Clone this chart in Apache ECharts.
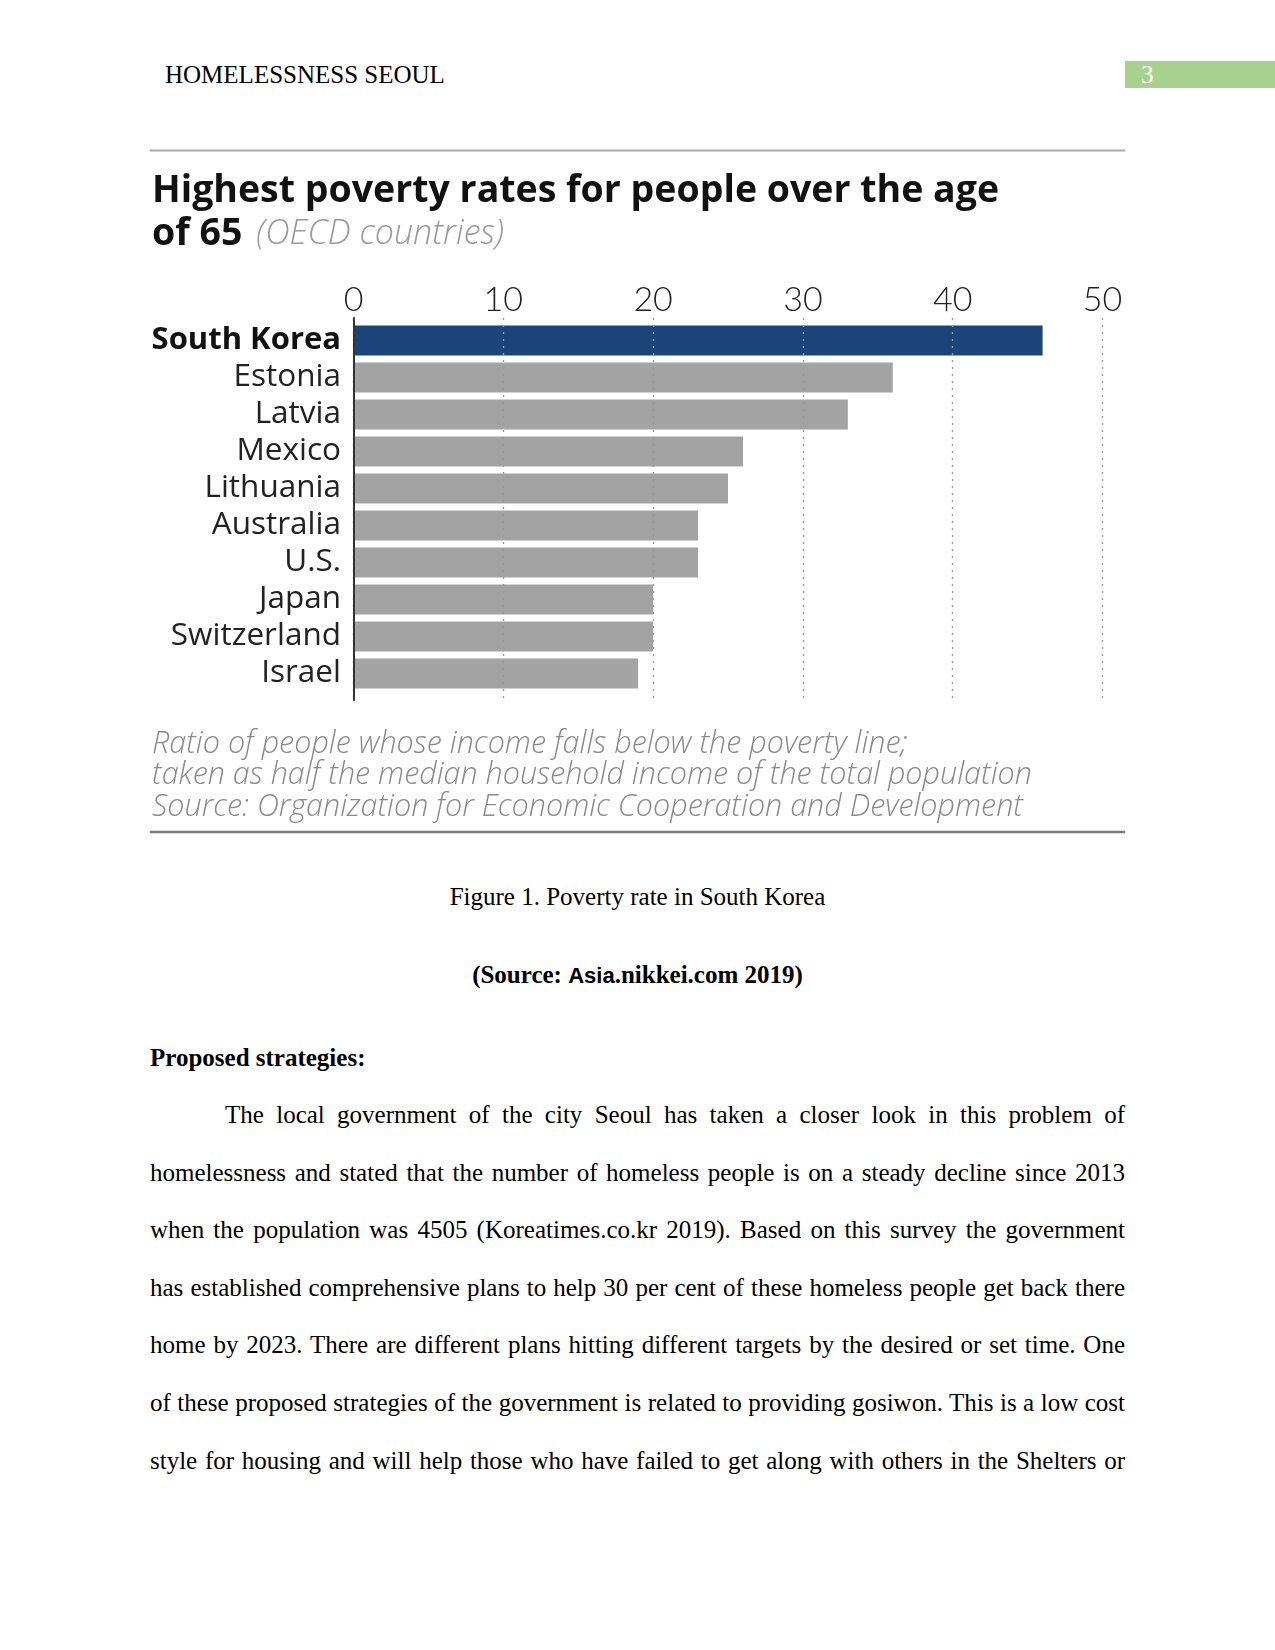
<!DOCTYPE html>
<html>
<head>
<meta charset="utf-8">
<script src="https://cdn.jsdelivr.net/npm/echarts@6/dist/echarts.min.js"></script>
<style>
  html, body { margin: 0; padding: 0; background: #fff; }
  #page { position: relative; width: 1275px; height: 1650px; overflow: hidden; background: #fff; }
  #chart { position: absolute; left: 0; top: 0; width: 1275px; height: 880px; }
  .serif { font-family: "Liberation Serif", "Times New Roman", serif; font-size: 25px; color: #000; }
  .abs { position: absolute; white-space: nowrap; line-height: 30px; height: 30px; }
  #pnum { position: absolute; left: 1125px; top: 61px; width: 150px; height: 27px; background: #a9d18e; }
  #pnum span { position: absolute; left: 16px; top: -1px; color: #fff; line-height: 30px; }
  #para { position: absolute; left: 150px; top: 1086px; width: 975px; }
  #para div { line-height: 57.6px; height: 57.6px; text-align: justify; text-align-last: justify; white-space: nowrap; }
</style>
</head>
<body>
<div id="page">
  <div class="serif abs" style="left:165px; top:60px;">HOMELESSNESS SEOUL</div>
  <div id="pnum" class="serif"><span>3</span></div>
  <div id="chart"></div>
  <div class="serif abs" style="left:150px; width:975px; text-align:center; top:882px;">Figure 1. Poverty rate in South Korea</div>
  <div class="serif abs" style="left:150px; width:975px; text-align:center; top:960px; font-weight:bold;">(Source: <span style="font-family:'Liberation Sans', Arial, sans-serif; font-size:22px;">Asia</span>.nikkei.com 2019)</div>
  <div class="serif abs" style="left:150px; top:1043px; font-weight:bold;">Proposed strategies:</div>
  <div id="para" class="serif">
    <div style="padding-left:75px;">The local government of the city Seoul has taken a closer look in this problem of</div>
    <div>homelessness and stated that the number of homeless people is on a steady decline since 2013</div>
    <div>when the population was 4505 (Koreatimes.co.kr 2019). Based on this survey the government</div>
    <div>has established comprehensive plans to help 30 per cent of these homeless people get back there</div>
    <div>home by 2023. There are different plans hitting different targets by the desired or set time. One</div>
    <div>of these proposed strategies of the government is related to providing gosiwon. This is a low cost</div>
    <div>style for housing and will help those who have failed to get along with others in the Shelters or</div>
  </div>
</div>
<script>
// ---- chart data ----
const categories = ['South Korea', 'Estonia', 'Latvia', 'Mexico', 'Lithuania', 'Australia', 'U.S.', 'Japan', 'Switzerland', 'Israel'];
const povertyRates = [46, 36, 33, 26, 25, 23, 23, 20, 20, 19];
const highlightCountry = 'South Korea';
const axisMin = 0;
const axisMax = 50;
const axisInterval = 10;
const titleLine1 = 'Highest poverty rates for people over the age';
const titleLine2Bold = 'of 65';
const titleLine2Note = '(OECD countries)';
const footnotes = [
  'Ratio of people whose income falls below the poverty line;',
  'taken as half the median household income of the total population',
  'Source: Organization for Economic Cooperation and Development'
];

const FONT = '"Open Sans", "Noto Sans", Lato, sans-serif';
const TICKFONT = 'Lato, "Open Sans", sans-serif';
const chart = echarts.init(document.getElementById('chart'), null, { renderer: 'canvas' });

const barData = povertyRates.map((v, i) => ({
  value: v,
  itemStyle: { color: categories[i] === highlightCountry ? '#1b4578' : '#a3a3a3' }
}));

const footnoteGraphics = footnotes.map((t, i) => ({
  type: 'text',
  left: 152,
  top: 729 + i * 31.5,
  style: { text: t, font: 'italic 300 30.5px ' + FONT, fill: '#8a8a8a' }
}));

chart.setOption({
  animation: false,
  backgroundColor: 'transparent',
  grid: [
    { left: 353.5, width: 749, top: 322, height: 370 },
    { left: 353.5, width: 749, top: 318, height: 382 }
  ],
  xAxis: [
    { gridIndex: 0, type: 'value', min: axisMin, max: axisMax, interval: axisInterval, show: false },
    {
      gridIndex: 1, type: 'value', min: axisMin, max: axisMax, interval: axisInterval, position: 'top', z: 5,
      axisLine: { show: false, onZero: false }, axisTick: { show: false },
      axisLabel: { fontFamily: TICKFONT, fontSize: 34, fontWeight: 300, color: '#222', margin: 1 },
      splitLine: { show: true, lineStyle: { color: '#999', type: [2, 5], width: 1.3 } }
    }
  ],
  yAxis: [
    {
      gridIndex: 0, type: 'category', data: categories, inverse: true,
      axisLine: { show: false }, axisTick: { show: false },
      axisLabel: {
        interval: 0, margin: 12.5, fontFamily: FONT, fontSize: 31.5, color: '#222',
        formatter: v => v === highlightCountry ? '{b|' + v + '}' : v,
        rich: { b: { fontFamily: FONT, fontSize: 31, fontWeight: 'bold', color: '#111' } }
      }
    },
    {
      gridIndex: 1, type: 'value', z: 6,
      axisLine: { show: true, onZero: false, lineStyle: { color: '#333', width: 2 } },
      axisLabel: { show: false }, axisTick: { show: false }, splitLine: { show: false }
    }
  ],
  series: [{
    type: 'bar', xAxisIndex: 0, yAxisIndex: 0, data: barData, barWidth: 30, z: 2
  }],
  graphic: [
    { type: 'line', shape: { x1: 150, y1: 150.5, x2: 1125, y2: 150.5 }, style: { stroke: '#a8a8a8', lineWidth: 2 } },
    { type: 'text', left: 152, top: 172, style: { text: titleLine1, font: 'bold 37.5px ' + FONT, fill: '#111' } },
    {
      type: 'text', left: 152, top: 215,
      style: {
        text: '{a|' + titleLine2Bold + '}{s| }{b|' + titleLine2Note + '}',
        rich: {
          a: { font: 'bold 37.5px ' + FONT, fill: '#111' },
          s: { font: '16px ' + FONT, width: 14 },
          b: { font: 'italic 300 34px ' + FONT, fill: '#9a9a9a' }
        }
      }
    },
    ...footnoteGraphics,
    { type: 'line', shape: { x1: 150, y1: 832, x2: 1125, y2: 832 }, style: { stroke: '#7a7a7a', lineWidth: 2.5 } }
  ]
});
</script>
</body>
</html>
